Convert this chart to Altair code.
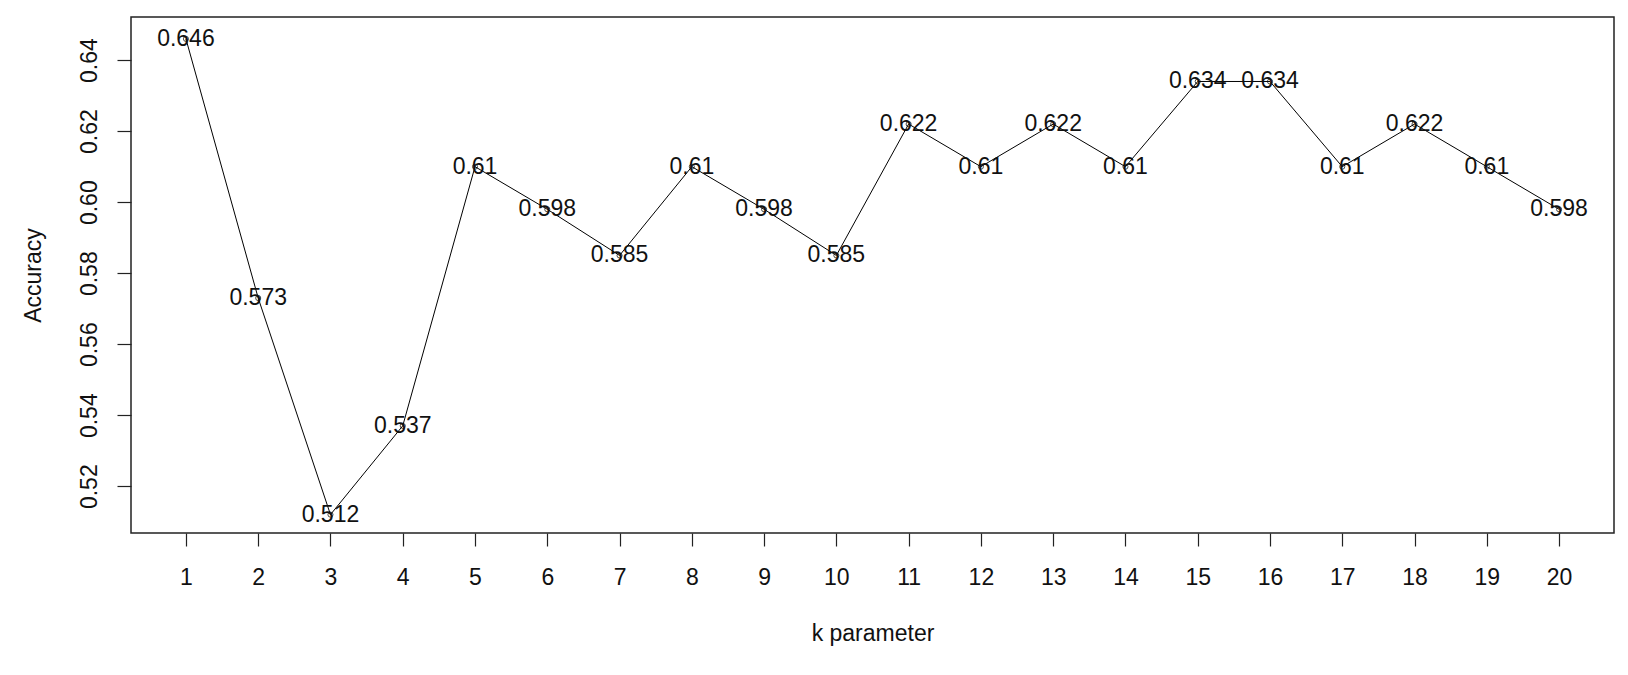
import altair as alt
import pandas as pd

k_values = list(range(1, 21))
accuracy = [0.646, 0.573, 0.512, 0.537, 0.61, 0.598, 0.585, 0.61, 0.598, 0.585,
            0.622, 0.61, 0.622, 0.61, 0.634, 0.634, 0.61, 0.622, 0.61, 0.598]
labels = ["0.646", "0.573", "0.512", "0.537", "0.61", "0.598", "0.585", "0.61", "0.598", "0.585",
          "0.622", "0.61", "0.622", "0.61", "0.634", "0.634", "0.61", "0.622", "0.61", "0.598"]
y_ticks = [0.52, 0.54, 0.56, 0.58, 0.60, 0.62, 0.64]

df = pd.DataFrame({"k": k_values, "acc": accuracy, "label": labels})

FONT = "Liberation Sans"
FS = 23

x = alt.X("k:Q", scale=alt.Scale(domain=[0.24, 20.76], nice=False, zero=False),
          axis=alt.Axis(values=k_values, format="d", title="k parameter",
                        grid=False, domain=False, tickSize=13, tickColor="#222",
                        tickWidth=1.2, labelPadding=20, labelFont=FONT, labelFontSize=FS,
                        labelColor="#111", labelBaseline="top", labelAlign="center",
                        labelFlush=False, labelOverlap=False,
                        titleFont=FONT, titleFontSize=FS, titleFontWeight="normal",
                        titleColor="#111", titleBaseline="alphabetic",
                        titleX=741.5, titleY=107.5, titleAlign="center"))
y = alt.Y("acc:Q", scale=alt.Scale(domain=[0.50682, 0.65216], nice=False, zero=False),
          axis=alt.Axis(values=y_ticks, format=".2f", title="Accuracy",
                        grid=False, domain=False, tickSize=14, tickColor="#222",
                        tickWidth=1.2, labelPadding=21, labelFont=FONT, labelFontSize=FS,
                        labelColor="#111", labelAngle=270, labelAlign="center",
                        labelBaseline="alphabetic", labelFlush=False, labelOverlap=False,
                        titleFont=FONT, titleFontSize=FS, titleFontWeight="normal",
                        titleColor="#111", titleAngle=270, titleAlign="center",
                        titleBaseline="alphabetic", titleX=-91, titleY=258))

base = alt.Chart(df).encode(x=x, y=y)

line = base.mark_line(color="#000", strokeWidth=1)
pts = base.mark_point(shape="circle", filled=False, color="#000", size=26, strokeWidth=1)
txt = base.mark_text(font=FONT, fontSize=FS, color="#111", align="center",
                     baseline="middle").encode(text="label:N")

chart = (line + pts + txt).properties(
    width=1483, height=516,
    autosize=alt.AutoSizeParams(type="none"),
    padding={"left": 123, "top": 9, "right": 5, "bottom": 130},
    background="white",
).configure_view(stroke="#222", strokeWidth=1.5)

chart.save("out.html", embed_options={"renderer": "svg", "actions": False})
